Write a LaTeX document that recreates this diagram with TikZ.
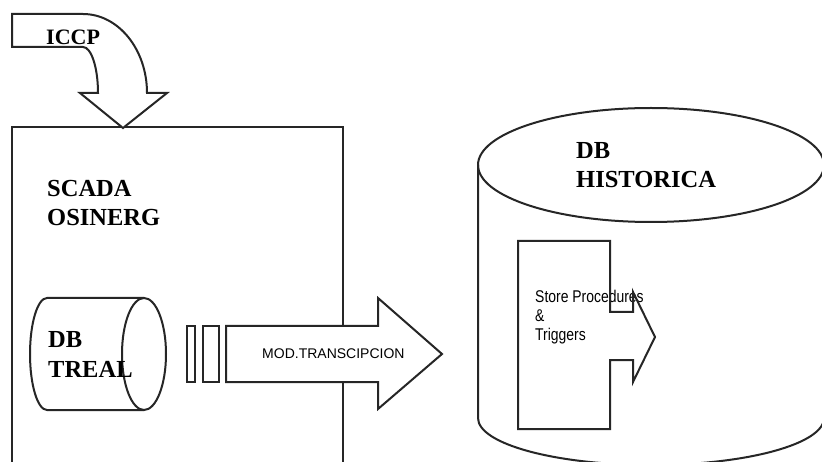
\documentclass[tikz,border=0pt]{standalone}
\usepackage{fontspec}
\setmainfont{Liberation Serif}
\newfontfamily\arialf{Liberation Sans}
\newfontfamily\arialn[FakeStretch=0.82]{Liberation Sans}
\tikzset{
  shapeline/.style={draw=black!85, line width=2pt, line join=miter},
  bigtitle/.style={inner sep=0pt, anchor=base west, font=\bfseries\fontsize{24.5}{29}\selectfont},
  smalltxt/.style={inner sep=0pt, anchor=base west, font=\arialf\fontsize{14}{18}\selectfont},
  proctxt/.style={inner sep=0pt, anchor=base west, font=\arialn\fontsize{17}{19}\selectfont}
}
\begin{document}
\begin{tikzpicture}[x=1pt,y=-1pt]
\useasboundingbox (0,0) rectangle (822,462);
\clip (0,0) rectangle (822,462);
\fill[white] (0,0) rectangle (822,462);

% SCADA box
\draw[shapeline] (12,470) -- (12,127) -- (343,127) -- (343,470);

% ICCP curved arrow
\draw[shapeline, fill=white] (12,14) -- (83,14)
  arc[start angle=270, end angle=360, x radius=64, y radius=79]
  -- (167,93) -- (123,128) -- (80,93) -- (98,93)
  arc[start angle=0, end angle=-90, x radius=15, y radius=46]
  -- (12,47) -- cycle;
\node[bigtitle, font=\bfseries\fontsize{22}{26}\selectfont] (iccp) at (46,45) {ICCP};

\node[bigtitle] (scada) at (47,197) {SCADA};
\node[bigtitle] (osinerg) at (47,226) {OSINERG};

% DB TREAL cylinder (horizontal)
\draw[shapeline] (144,298) -- (47,298)
  arc[start angle=270, end angle=90, x radius=17, y radius=56]
  -- (144,410);
\draw[shapeline] (144,354) ellipse[x radius=22, y radius=56];
\node[bigtitle] (db1) at (48,348) {DB};
\node[bigtitle] (treal) at (48,377) {TREAL};

% small rectangles
\draw[shapeline, line width=1.6pt] (187,326) rectangle (195,382);
\draw[shapeline, line width=1.6pt] (203,326) rectangle (219,382);

% big arrow
\draw[shapeline, fill=white] (226,326) -- (378,326) -- (378,298) -- (442,354)
  -- (378,409) -- (378,382) -- (226,382) -- cycle;
\node[smalltxt] (mod) at (262,358) {MOD.TRANSCIPCION};

% DB HISTORICA cylinder
\draw[shapeline] (651,165) ellipse[x radius=173, y radius=57];
\draw[shapeline] (478,165) -- (478,418)
  arc[start angle=180, end angle=0, x radius=173, y radius=47]
  -- (824,165);
\node[bigtitle] (db2) at (576,159) {DB};
\node[bigtitle] (hist) at (576,188) {HISTORICA};

% Store procedures shape
\node[proctxt] (store) at (535,303) {Store Procedures};
\node[proctxt] (amp) at (535,322) {\&};
\node[proctxt] (trig) at (535,341) {Triggers};
\draw[shapeline] (518,241) -- (610,241) -- (610,312) -- (633,312) -- (633,292)
  -- (655,337) -- (633,382) -- (633,360) -- (610,360) -- (610,429)
  -- (518,429) -- cycle;
\end{tikzpicture}
\end{document}
